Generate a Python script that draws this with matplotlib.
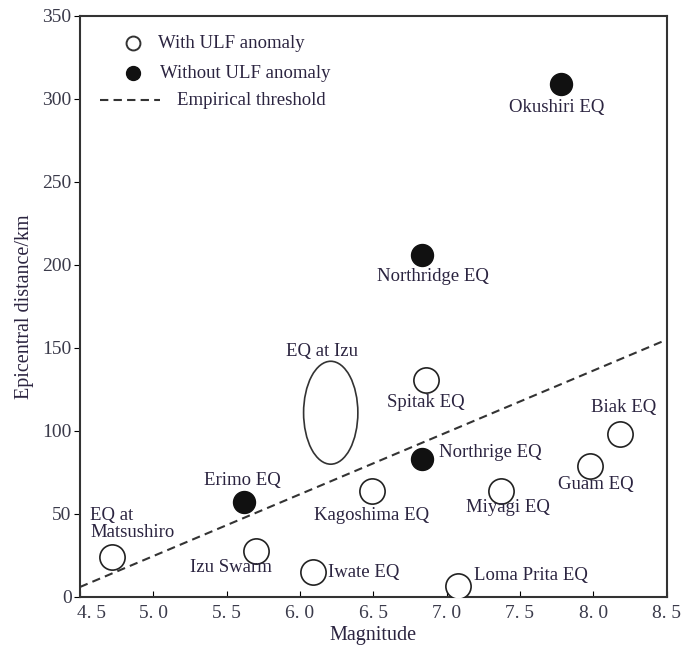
import matplotlib.pyplot as plt
import matplotlib.transforms as mtransforms
from matplotlib.patches import Ellipse

plt.rcParams['font.family'] = ['Liberation Serif', 'DejaVu Serif']

# events with ULF anomaly (open circles)
with_names = ["EQ at Matsushiro", "Izu Swarm", "Iwate EQ", "Kagoshima EQ", "Spitak EQ",
              "Loma Prita EQ", "Miyagi EQ", "Guam EQ", "Biak EQ"]
with_mag = [4.72, 5.70, 6.09, 6.49, 6.86, 7.08, 7.37, 7.98, 8.18]
with_dist = [24, 28, 15, 64, 131, 6.5, 64, 79, 98]

# events without ULF anomaly (filled)
without_names = ["Erimo EQ", "Northrige EQ", "Northridge EQ", "Okushiri EQ"]
without_mag = [5.62, 6.83, 6.83, 7.78]
without_dist = [57, 83, 206, 309]

# EQ at Izu region (ellipse)
izu_center = (6.21, 111)
izu_size = (0.37, 62)

# empirical threshold line
thr_mag = [4.5, 8.5]
thr_dist = [6, 155]

# label positions: (text, x, y, ha)
labels = [
    ("EQ at\nMatsushiro", 4.57, 44, "left"),
    ("Izu Swarm", 5.53, 18, "center"),
    ("Iwate EQ", 6.19, 15, "left"),
    ("Kagoshima EQ", 6.49, 49, "center"),
    ("Spitak EQ", 6.86, 117, "center"),
    ("Loma Prita EQ", 7.19, 13, "left"),
    ("Miyagi EQ", 7.42, 54, "center"),
    ("Guam EQ", 8.02, 68, "center"),
    ("Biak EQ", 8.21, 114, "center"),
    ("Erimo EQ", 5.61, 70, "center"),
    ("Northrige EQ", 6.95, 87, "left"),
    ("Northridge EQ", 6.91, 193, "center"),
    ("Okushiri EQ", 7.75, 295, "center"),
    ("EQ at Izu", 6.15, 148, "center"),
]

txt_color = "#2b2440"
line_color = "#333333"
dash = (0, (4, 2.5))

fig = plt.figure(figsize=(6.83, 6.47), dpi=100)
ax = fig.add_axes([0.117, 0.0773, 0.859, 0.898])

ax.plot(thr_mag, thr_dist, color=line_color, linestyle=dash, linewidth=1.5, zorder=1)
ax.scatter(with_mag, with_dist, s=330, facecolor="white", edgecolor="#222222", linewidth=1.2, zorder=3)
ax.scatter(without_mag, without_dist, s=250, facecolor="#111111", edgecolor="#111111", zorder=3)
ax.add_patch(Ellipse(izu_center, izu_size[0], izu_size[1], facecolor="none",
                     edgecolor=line_color, linewidth=1.2, zorder=2))

for txt, x, y, ha in labels:
    ax.text(x, y, txt, ha=ha, va="center", fontsize=13.5, color=txt_color,
            linespacing=1.05, zorder=4)

# legend drawn by hand (entries are not aligned in the original)
ax.plot([0.090], [0.953], marker="o", markersize=10, markerfacecolor="white",
        markeredgecolor=line_color, markeredgewidth=1.4, transform=ax.transAxes)
ax.plot([0.090], [0.902], marker="o", markersize=10, markerfacecolor="#111111",
        markeredgecolor="#111111", transform=ax.transAxes)
ax.plot([0.034, 0.136], [0.855, 0.855], color=line_color, linestyle=dash, linewidth=1.5,
        transform=ax.transAxes)
ax.text(0.133, 0.952, "With ULF anomaly", transform=ax.transAxes, fontsize=13.5,
        color=txt_color, va="center")
ax.text(0.137, 0.901, "Without ULF anomaly", transform=ax.transAxes, fontsize=13.5,
        color=txt_color, va="center")
ax.text(0.165, 0.855, "Empirical threshold", transform=ax.transAxes, fontsize=13.5,
        color=txt_color, va="center")

ax.set_xlim(4.5, 8.5)
ax.set_ylim(0, 350)
xticks = [4.5, 5.0, 5.5, 6.0, 6.5, 7.0, 7.5, 8.0, 8.5]
ax.set_xticks(xticks)
ax.set_xticklabels([("%.1f" % v).replace(".", ". ") for v in xticks], fontsize=14, color="#3a3a4a")
ax.set_yticks(range(0, 351, 50))
ax.tick_params(axis="y", direction="out", labelsize=14, labelcolor="#3a3a4a", length=4, pad=2)
ax.tick_params(axis="x", direction="in", length=4, pad=6)
for sp in ax.spines.values():
    sp.set_linewidth(1.5)
    sp.set_color(line_color)

# nudge the first x label right so it clears the "0"
first = ax.xaxis.get_major_ticks()[0].label1
first.set_transform(first.get_transform() +
                    mtransforms.ScaledTranslation(8 / 72, 0, fig.dpi_scale_trans))

ax.set_xlabel("Magnitude", fontsize=14.5, labelpad=3, color=txt_color)
ax.set_ylabel("Epicentral distance/km", fontsize=14.5, labelpad=6, color=txt_color)

fig.savefig("out.png", dpi=100)
